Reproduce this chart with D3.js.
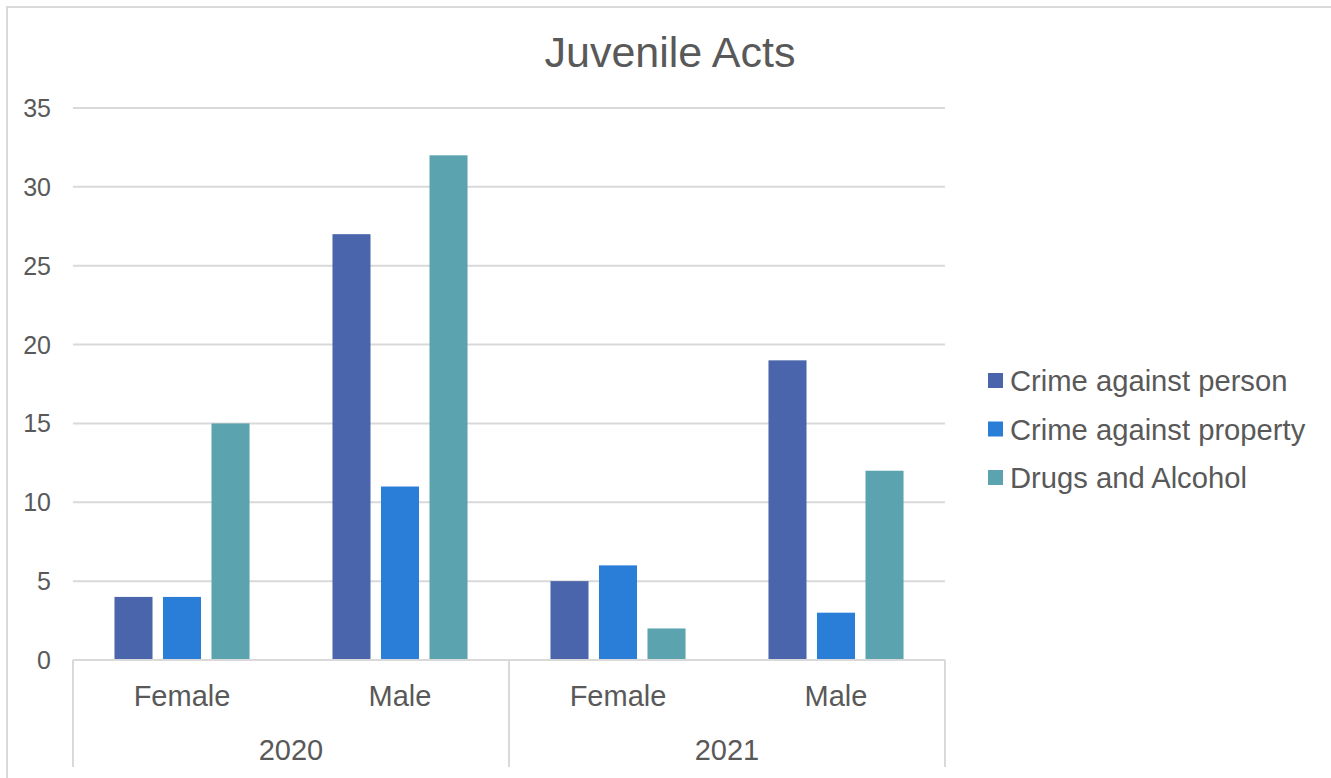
<!DOCTYPE html>
<html>
<head>
<meta charset="utf-8">
<script src="https://cdn.jsdelivr.net/npm/d3@7"></script>
<style>
html,body{margin:0;padding:0;background:#fff;}
svg{display:block;font-family:"Liberation Sans",Arial,sans-serif;}
</style>
</head>
<body>
<svg id="chart" width="1331" height="778"></svg>
<script>
const title = "Juvenile Acts";
const years = ["2020", "2021"];
const genders = ["Female", "Male"];
const seriesNames = ["Crime against person", "Crime against property", "Drugs and Alcohol"];
const seriesColors = ["#4A65AB", "#2A7ED8", "#5BA3AE"];
const crimeAgainstPerson   = [4, 27, 5, 19];
const crimeAgainstProperty = [4, 11, 6, 3];
const drugsAndAlcohol      = [15, 32, 2, 12];
const yTicks = [0, 5, 10, 15, 20, 25, 30, 35];

(function () {
const seriesValues = [crimeAgainstPerson, crimeAgainstProperty, drugsAndAlcohol];
const cats = [];
years.forEach(y => genders.forEach(g => cats.push({year: y, gender: g, key: y + "|" + g})));

const svg = d3.select("#chart");
const textColor = "#595959";
const gridColor = "#D9D9D9";

// outer border
svg.append("rect").attr("x", 7).attr("y", 7).attr("width", 1340).attr("height", 790)
  .attr("fill", "#fff").attr("stroke", gridColor).attr("stroke-width", 2);

const pLeft = 73, pRight = 945, pTop = 108, pBottom = 660;
const y = d3.scaleLinear().domain([0, 35]).range([pBottom, pTop]);
const xYear = d3.scaleBand().domain(years).range([pLeft, pRight]);
const xCat = d3.scaleBand().domain(cats.map(c => c.key)).range([pLeft, pRight]);
const xSeries = d3.scaleBand().domain(seriesNames).range([0, xCat.bandwidth()])
  .paddingInner(0.216).paddingOuter(0.855);

// gridlines
svg.append("g").selectAll("line").data(yTicks).join("line")
  .attr("x1", pLeft).attr("x2", pRight)
  .attr("y1", d => y(d)).attr("y2", d => y(d))
  .attr("stroke", gridColor).attr("stroke-width", 2);

// y labels
svg.append("g").selectAll("text").data(yTicks).join("text")
  .attr("x", 51).attr("y", d => y(d) + 9)
  .attr("text-anchor", "end").attr("font-size", 25).attr("fill", textColor)
  .text(d => d);

// bars
const barG = svg.append("g");
seriesNames.forEach((s, si) => {
  barG.append("g").selectAll("rect").data(cats).join("rect")
    .attr("x", (c) => xCat(c.key) + xSeries(s))
    .attr("width", xSeries.bandwidth())
    .attr("y", (c, i) => y(seriesValues[si][i]))
    .attr("height", (c, i) => y(0) - y(seriesValues[si][i]))
    .attr("fill", seriesColors[si]);
});

// axis line
svg.append("line").attr("x1", pLeft).attr("x2", pRight).attr("y1", y(0)).attr("y2", y(0))
  .attr("stroke", gridColor).attr("stroke-width", 2);

// year separators
const seps = [pLeft].concat(years.map(yr => xYear(yr) + xYear.bandwidth()));
svg.append("g").selectAll("line").data(seps).join("line")
  .attr("x1", d => d).attr("x2", d => d).attr("y1", y(0)).attr("y2", 767)
  .attr("stroke", gridColor).attr("stroke-width", 2);

// gender labels
svg.append("g").selectAll("text").data(cats).join("text")
  .attr("x", c => xCat(c.key) + xCat.bandwidth() / 2).attr("y", 706)
  .attr("text-anchor", "middle").attr("font-size", 29).attr("fill", textColor)
  .text(c => c.gender);

// year labels
svg.append("g").selectAll("text").data(years).join("text")
  .attr("x", d => xYear(d) + xYear.bandwidth() / 2).attr("y", 760)
  .attr("text-anchor", "middle").attr("font-size", 29).attr("fill", textColor)
  .text(d => d);

// title
svg.append("text").attr("x", 670).attr("y", 67).attr("text-anchor", "middle")
  .attr("font-size", 43).attr("fill", textColor).text(title);

// legend
const leg = svg.append("g").selectAll("g").data(seriesNames).join("g")
  .attr("transform", (d, i) => `translate(988, ${381 + i * 48.5})`);
leg.append("rect").attr("x", 0).attr("y", -8).attr("width", 15).attr("height", 15)
  .attr("fill", (d, i) => seriesColors[i]);
leg.append("text").attr("x", 22).attr("y", 10).attr("font-size", 29.2).attr("fill", textColor)
  .text(d => d);
})();
</script>
</body>
</html>
